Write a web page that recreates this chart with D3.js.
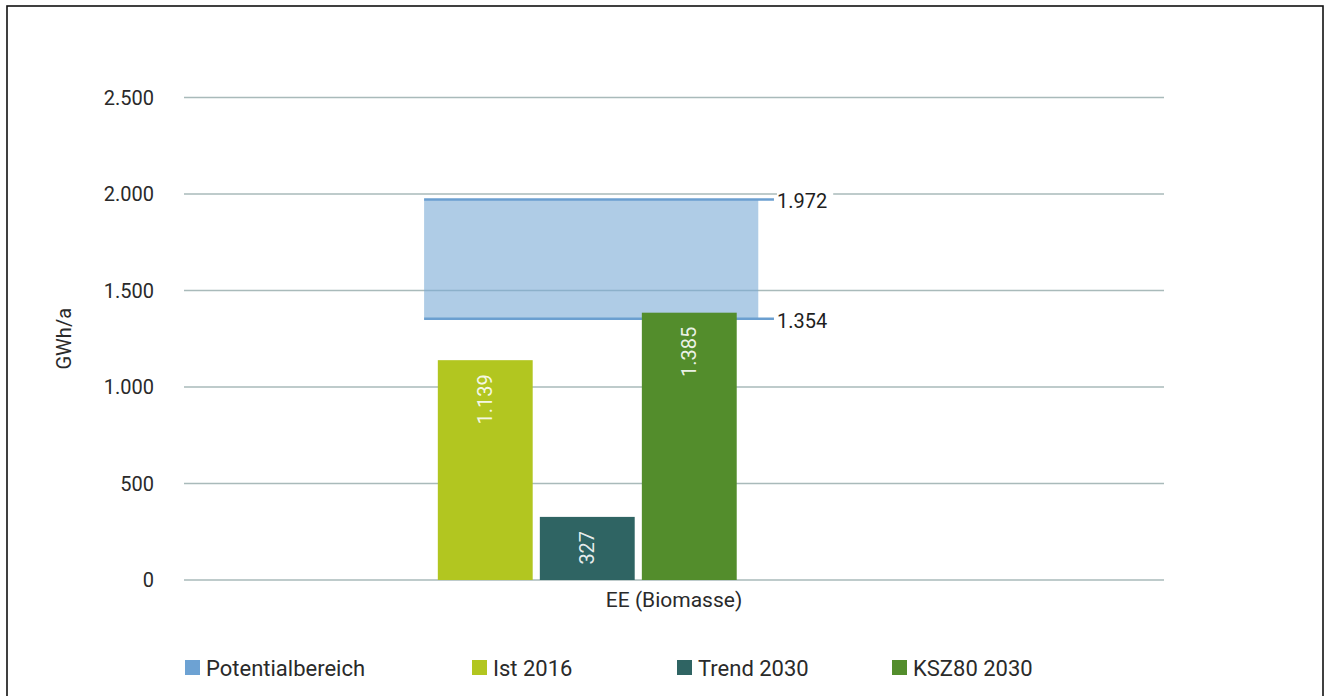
<!DOCTYPE html>
<html lang="de">
<head>
<meta charset="utf-8">
<title>EE (Biomasse)</title>
<script src="https://cdnjs.cloudflare.com/ajax/libs/d3/7.8.5/d3.min.js"></script>
<style>
    body { margin: 0; background: #fff; }
    #chart-area { width: 1331px; height: 696px; }
    text { font-family: Roboto, "Noto Sans", sans-serif; }
</style>
</head>
<body>
<div id="chart-area"></div>
<script>

// chart data
const categories = ["EE (Biomasse)"];
const seriesNames = ["Ist 2016", "Trend 2030", "KSZ80 2030"];
const seriesValues = [1139, 327, 1385];
const potentialName = "Potentialbereich";
const potentialRange = [1354, 1972];
const yTicks = [0, 500, 1000, 1500, 2000, 2500];
const yTitle = "GWh/a";


class BarVis {

    constructor(parentElement) {
        this.parentElement = parentElement;
        this.initVis();
    }

    initVis() {
        let vis = this;

        vis.margin = {top: 97.5, right: 167, bottom: 116, left: 184};
        vis.width = 1331 - vis.margin.left - vis.margin.right;
        vis.height = 696 - vis.margin.top - vis.margin.bottom;

        vis.colors = ["#b2c620", "#2f6463", "#538d2c"];
        vis.potentialFill = "#7aaad6";
        vis.potentialLine = "#6b9fd0";

        // german number format: 1.385
        vis.locale = d3.formatLocale({decimal: ",", thousands: ".", grouping: [3], currency: ["", " €"]});
        vis.fmt = vis.locale.format(",d");

        vis.root = d3.select("#" + vis.parentElement).append("svg")
            .attr("width", 1331)
            .attr("height", 696);

        // frame
        vis.root.append("rect")
            .attr("x", 7).attr("y", 6)
            .attr("width", 1316).attr("height", 720)
            .attr("fill", "none")
            .attr("stroke", "#111")
            .attr("stroke-width", 1.6);

        vis.svg = vis.root.append("g")
            .attr("transform", `translate(${vis.margin.left}, ${vis.margin.top})`);

        vis.x0 = d3.scaleBand()
            .domain(categories)
            .range([0, vis.width]);

        vis.y = d3.scaleLinear()
            .domain([0, 2500])
            .range([vis.height, 0]);

        vis.wrangleData();
    }

    wrangleData() {
        let vis = this;

        vis.displayData = seriesNames.map((name, i) => ({
            category: categories[0],
            name: name,
            value: seriesValues[i],
            color: vis.colors[i]
        }));

        vis.updateVis();
    }

    updateVis() {
        let vis = this;
        let bw = vis.x0.bandwidth();

        // grid lines
        vis.svg.append("g")
            .selectAll("line")
            .data(yTicks)
            .enter()
            .append("line")
            .attr("x1", 0)
            .attr("x2", vis.width)
            .attr("y1", d => vis.y(d))
            .attr("y2", d => vis.y(d))
            .attr("stroke", "#a9baba")
            .attr("stroke-width", 1.5);

        // y tick labels
        vis.svg.append("g")
            .selectAll("text")
            .data(yTicks)
            .enter()
            .append("text")
            .attr("x", -30)
            .attr("y", d => vis.y(d))
            .attr("dy", "0.35em")
            .attr("text-anchor", "end")
            .attr("font-size", 20)
            .attr("fill", "#2a2a2a")
            .text(d => vis.fmt(d));

        vis.svg.append("text")
            .attr("transform", `translate(${-113}, ${vis.height / 2}) rotate(-90)`)
            .attr("text-anchor", "middle")
            .attr("font-size", 20)
            .attr("fill", "#2a2a2a")
            .text(yTitle);

        // category label
        vis.svg.append("g")
            .selectAll("text")
            .data(categories)
            .enter()
            .append("text")
            .attr("x", d => vis.x0(d) + bw / 2)
            .attr("y", vis.height + 27)
            .attr("text-anchor", "middle")
            .attr("font-size", 21)
            .attr("fill", "#2a2a2a")
            .text(d => d);

        // potential range
        let pLeft = vis.x0(categories[0]) + bw * 0.245;
        let pRight = vis.x0(categories[0]) + bw * 0.586;
        let pLineEnd = vis.x0(categories[0]) + bw * 0.602;

        let pot = vis.svg.append("g");

        pot.append("rect")
            .attr("x", pLeft)
            .attr("y", vis.y(potentialRange[1]))
            .attr("width", pRight - pLeft)
            .attr("height", vis.y(potentialRange[0]) - vis.y(potentialRange[1]))
            .attr("fill", vis.potentialFill)
            .attr("fill-opacity", 0.6);

        let ends = pot.selectAll(".pot-end")
            .data(potentialRange)
            .enter()
            .append("g")
            .attr("class", "pot-end");

        ends.append("line")
            .attr("x1", pLeft)
            .attr("x2", pLineEnd)
            .attr("y1", d => vis.y(d))
            .attr("y2", d => vis.y(d))
            .attr("stroke", vis.potentialLine)
            .attr("stroke-width", 2.5);

        let endLabels = ends.append("text")
            .attr("x", pLineEnd + 3)
            .attr("y", d => vis.y(d) + 2)
            .attr("dy", "0.35em")
            .attr("font-size", 20)
            .attr("fill", "#1e1e1e")
            .text(d => vis.fmt(d));

        // white box behind the labels so the grid line breaks
        endLabels.each(function() {
            let b = this.getBBox();
            d3.select(this.parentNode).insert("rect", "text")
                .attr("x", b.x)
                .attr("y", b.y - 2)
                .attr("width", b.width + 6)
                .attr("height", b.height + 4)
                .attr("fill", "#fff");
        });

        // bars
        vis.x1 = d3.scaleBand()
            .domain(seriesNames)
            .range([bw * 0.259, bw * 0.564])
            .paddingInner(0.07);

        let bars = vis.svg.append("g")
            .selectAll("g")
            .data(vis.displayData)
            .enter()
            .append("g");

        bars.append("rect")
            .attr("x", d => vis.x0(d.category) + vis.x1(d.name))
            .attr("y", d => vis.y(d.value))
            .attr("width", vis.x1.bandwidth())
            .attr("height", d => vis.height - vis.y(d.value))
            .attr("fill", d => d.color);

        bars.append("text")
            .attr("transform", d => `translate(${vis.x0(d.category) + vis.x1(d.name) + vis.x1.bandwidth() / 2}, ${vis.y(d.value) + 14}) rotate(-90)`)
            .attr("text-anchor", "end")
            .attr("dy", "0.35em")
            .attr("font-size", 20)
            .attr("fill", "#fff")
            .attr("fill-opacity", 0.9)
            .text(d => vis.fmt(d.value));

        // legend
        let legendData = [{name: potentialName, color: "#6da2d3"}]
            .concat(seriesNames.map((n, i) => ({name: n, color: vis.colors[i]})));
        let legendX = [1, 288, 493, 708];

        let legend = vis.svg.append("g")
            .attr("transform", `translate(0, ${vis.height + 80})`)
            .selectAll("g")
            .data(legendData)
            .enter()
            .append("g")
            .attr("transform", (d, i) => `translate(${legendX[i]}, 0)`);

        legend.append("rect")
            .attr("x", 0)
            .attr("y", 0)
            .attr("width", 15)
            .attr("height", 15)
            .attr("fill", d => d.color);

        legend.append("text")
            .attr("x", 21)
            .attr("y", 16)
            .attr("font-size", 22)
            .attr("fill", "#2a2a2a")
            .text(d => d.name);
    }
}

new BarVis("chart-area");

</script>
</body>
</html>
